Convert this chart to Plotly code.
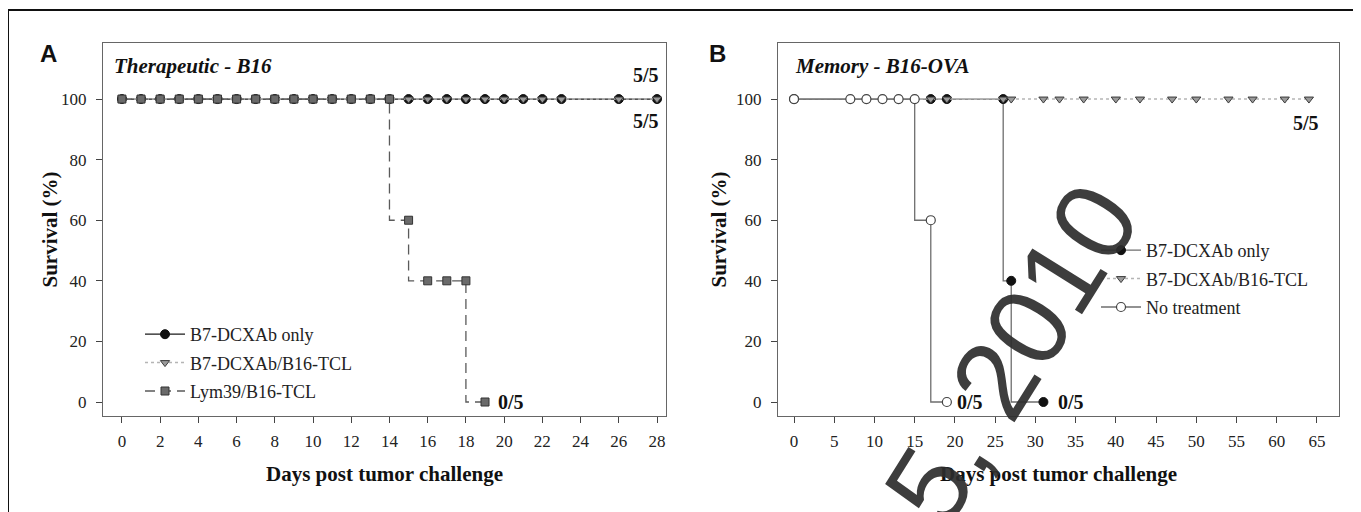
import plotly.graph_objects as go

# page is 1361x512; browser body margin is 8px, so the figure is 1353x504
W, H = 1353, 504
OFF = 8

# ---------------- Panel A: Therapeutic - B16 ----------------
a_b7_days = [0, 1, 2, 3, 4, 5, 6, 7, 8, 9, 10, 11, 12, 13, 14, 15, 16, 17, 18, 19, 20, 21, 22, 23, 26, 28]
a_b7_surv = [100, 100, 100, 100, 100, 100, 100, 100, 100, 100, 100, 100, 100, 100, 100, 100, 100, 100, 100, 100,
             100, 100, 100, 100, 100, 100]
a_tcl_days = [0, 1, 2, 3, 4, 5, 6, 7, 8, 9, 10, 11, 12, 13, 14, 15, 16, 17, 18, 19, 20, 21, 22, 23, 26, 28]
a_tcl_surv = [100, 100, 100, 100, 100, 100, 100, 100, 100, 100, 100, 100, 100, 100, 100, 100, 100, 100, 100, 100,
              100, 100, 100, 100, 100, 100]
a_lym_days = [0, 1, 2, 3, 4, 5, 6, 7, 8, 9, 10, 11, 12, 13, 14, 15, 16, 17, 18, 19]
a_lym_surv = [100, 100, 100, 100, 100, 100, 100, 100, 100, 100, 100, 100, 100, 100, 100, 60, 40, 40, 40, 0]
a_xticks = [0, 2, 4, 6, 8, 10, 12, 14, 16, 18, 20, 22, 24, 26, 28]

# ---------------- Panel B: Memory - B16-OVA ----------------
b_b7_days = [0, 17, 19, 26, 27, 31]
b_b7_surv = [100, 100, 100, 100, 40, 0]
b_tcl_days = [0, 17, 19, 26, 27, 31, 33, 36, 40, 43, 47, 50, 54, 57, 61, 64]
b_tcl_surv = [100, 100, 100, 100, 100, 100, 100, 100, 100, 100, 100, 100, 100, 100, 100, 100]
b_none_days = [0, 7, 9, 11, 13, 15, 17, 19]
b_none_surv = [100, 100, 100, 100, 100, 100, 60, 0]
b_xticks = [0, 5, 10, 15, 20, 25, 30, 35, 40, 45, 50, 55, 60, 65]

y_ticks = [0, 20, 40, 60, 80, 100]

names = ["B7-DCXAb only", "B7-DCXAb/B16-TCL", "Lym39/B16-TCL", "No treatment"]


def px(x):
    return (x - OFF) / W


def py(y):
    return 1 - (y - OFF) / H


SERIF = "Liberation Serif"
SANS = "Liberation Sans"

fig = go.Figure()

# Panel A traces
fig.add_trace(go.Scatter(
    x=a_b7_days, y=a_b7_surv, name=names[0], mode="lines+markers", line_shape="vh",
    line=dict(color="#1a1a1a", width=1.3),
    marker=dict(symbol="circle", size=9, color="#111111", line=dict(color="#111111", width=1)),
    xaxis="x", yaxis="y", legend="legend", legendgroup="a1"))
fig.add_trace(go.Scatter(
    x=a_tcl_days, y=a_tcl_surv, name=names[1], mode="lines+markers", line_shape="vh",
    line=dict(color="#b5b5b5", width=1.5, dash="dot"),
    marker=dict(symbol="triangle-down", size=8, color="#9a9a9a", line=dict(color="#3a3a3a", width=1)),
    xaxis="x", yaxis="y", legend="legend", legendgroup="a2"))
fig.add_trace(go.Scatter(
    x=a_lym_days, y=a_lym_surv, name=names[2], mode="lines+markers", line_shape="vh",
    line=dict(color="#5a5a5a", width=1.3, dash="10px,6px"),
    marker=dict(symbol="square", size=8, color="#6a6a6a", line=dict(color="#333333", width=1)),
    xaxis="x", yaxis="y", legend="legend", legendgroup="a3"))

# Panel B traces
fig.add_trace(go.Scatter(
    x=b_b7_days, y=b_b7_surv, name=names[0], mode="lines+markers", line_shape="vh",
    line=dict(color="#6e6e6e", width=1.3),
    marker=dict(symbol="circle", size=9, color="#111111", line=dict(color="#111111", width=1)),
    xaxis="x2", yaxis="y2", legend="legend2", legendgroup="b1"))
fig.add_trace(go.Scatter(
    x=b_tcl_days, y=b_tcl_surv, name=names[1], mode="lines+markers", line_shape="vh",
    line=dict(color="#b5b5b5", width=1.5, dash="dot"),
    marker=dict(symbol="triangle-down", size=8, color="#9a9a9a", line=dict(color="#3a3a3a", width=1)),
    xaxis="x2", yaxis="y2", legend="legend2", legendgroup="b2"))
fig.add_trace(go.Scatter(
    x=b_none_days, y=b_none_surv, name=names[3], mode="lines+markers", line_shape="vh",
    line=dict(color="#6e6e6e", width=1.3),
    marker=dict(symbol="circle", size=9, color="white", line=dict(color="#444444", width=1.2)),
    xaxis="x2", yaxis="y2", legend="legend2", legendgroup="b3"))

axis_common = dict(
    showline=True, linecolor="#666666", linewidth=1, mirror=True,
    showgrid=False, zeroline=False,
    ticks="outside", ticklen=6, tickwidth=1, tickcolor="#444444",
    tickfont=dict(family=SERIF, size=17, color="#222222"),
    fixedrange=True,
)

fig.update_layout(
    width=W, height=H,
    margin=dict(l=0, r=0, t=0, b=0),
    paper_bgcolor="white", plot_bgcolor="white",
    showlegend=True,
    xaxis=dict(domain=[px(103), px(666)], range=[-0.99, 28.47], tickvals=a_xticks,
               anchor="y", ticklabelstandoff=4, **axis_common),
    yaxis=dict(domain=[py(416), py(43)], range=[-4.62, 118.5], tickvals=y_ticks,
               anchor="x", ticklabelstandoff=6, **axis_common),
    xaxis2=dict(domain=[px(778), px(1339)], range=[-1.99, 67.74], tickvals=b_xticks,
                anchor="y2", ticklabelstandoff=4, **axis_common),
    yaxis2=dict(domain=[py(416), py(43)], range=[-4.62, 118.5], tickvals=y_ticks,
                anchor="x2", ticklabelstandoff=6, **axis_common),
    legend=dict(x=px(140), y=py(316), xanchor="left", yanchor="top",
                bgcolor="rgba(0,0,0,0)", borderwidth=0, tracegroupgap=2, itemwidth=40,
                font=dict(family=SERIF, size=18, color="#222222")),
    legend2=dict(x=px(1096), y=py(232), xanchor="left", yanchor="top",
                 bgcolor="rgba(0,0,0,0)", borderwidth=0, tracegroupgap=2, itemwidth=40,
                 font=dict(family=SERIF, size=18, color="#222222")),
)

annotations = [
    # panel letters
    dict(text="<b>A</b>", x=px(48.5), y=py(53.5), xref="paper", yref="paper",
         font=dict(family=SANS, size=24, color="#111111"), showarrow=False, xanchor="center", yanchor="middle"),
    dict(text="<b>B</b>", x=px(717.5), y=py(53), xref="paper", yref="paper",
         font=dict(family=SANS, size=24, color="#111111"), showarrow=False, xanchor="center", yanchor="middle"),
    # panel titles
    dict(text="<b><i>Therapeutic - B16</i></b>", x=px(112), y=py(66), xref="paper", yref="paper",
         font=dict(family=SERIF, size=21, color="#111111"), showarrow=False, xanchor="left", yanchor="middle"),
    dict(text="<b><i>Memory - B16-OVA</i></b>", x=px(793), y=py(66), xref="paper", yref="paper",
         font=dict(family=SERIF, size=21, color="#111111"), showarrow=False, xanchor="left", yanchor="middle"),
    # axis titles
    dict(text="<b>Days post tumor challenge</b>", x=px(384.5), y=py(474), xref="paper", yref="paper",
         font=dict(family=SERIF, size=21, color="#111111"), showarrow=False, xanchor="center", yanchor="middle"),
    dict(text="<b>Days post tumor challenge</b>", x=px(1058.5), y=py(474), xref="paper", yref="paper",
         font=dict(family=SERIF, size=21, color="#111111"), showarrow=False, xanchor="center", yanchor="middle"),
    dict(text="<b>Survival (%)</b>", x=px(49), y=py(229.5), xref="paper", yref="paper", textangle=-90,
         font=dict(family=SERIF, size=21, color="#111111"), showarrow=False, xanchor="center", yanchor="middle"),
    dict(text="<b>Survival (%)</b>", x=px(718), y=py(229.5), xref="paper", yref="paper", textangle=-90,
         font=dict(family=SERIF, size=21, color="#111111"), showarrow=False, xanchor="center", yanchor="middle"),
    # fraction labels panel A
    dict(text="<b>5/5</b>", x=28.2, y=107.9, xref="x", yref="y", showarrow=False, xanchor="right", yanchor="middle",
         font=dict(family=SERIF, size=20, color="#111111")),
    dict(text="<b>5/5</b>", x=28.2, y=92.7, xref="x", yref="y", showarrow=False, xanchor="right", yanchor="middle",
         font=dict(family=SERIF, size=20, color="#111111")),
    dict(text="<b>0/5</b>", x=19.6, y=0, xref="x", yref="y", showarrow=False, xanchor="left", yanchor="middle",
         font=dict(family=SERIF, size=20, color="#111111")),
    # fraction labels panel B
    dict(text="<b>5/5</b>", x=65.5, y=92.1, xref="x2", yref="y2", showarrow=False, xanchor="right", yanchor="middle",
         font=dict(family=SERIF, size=20, color="#111111")),
    dict(text="<b>0/5</b>", x=20.0, y=0, xref="x2", yref="y2", showarrow=False, xanchor="left", yanchor="middle",
         font=dict(family=SERIF, size=20, color="#111111")),
    dict(text="<b>0/5</b>", x=32.6, y=0, xref="x2", yref="y2", showarrow=False, xanchor="left", yanchor="middle",
         font=dict(family=SERIF, size=20, color="#111111")),
    # watermark
    dict(text="15, 2010", x=px(995), y=py(380), xref="paper", yref="paper", showarrow=False,
         xanchor="center", yanchor="middle", textangle=-58,
         font=dict(family=SANS, size=112, color="rgba(45,45,45,0.92)")),
]
fig.update_layout(annotations=annotations)

# outer frame (only top and left edges are visible in the image)
fig.add_shape(type="line", xref="paper", yref="paper", x0=px(8), y0=py(10), x1=1.0, y1=py(10),
              line=dict(color="#111111", width=2), layer="above")
fig.add_shape(type="line", xref="paper", yref="paper", x0=px(8), y0=py(10), x1=px(8), y1=0.0,
              line=dict(color="#111111", width=2), layer="above")

fig.write_html("out.html")
